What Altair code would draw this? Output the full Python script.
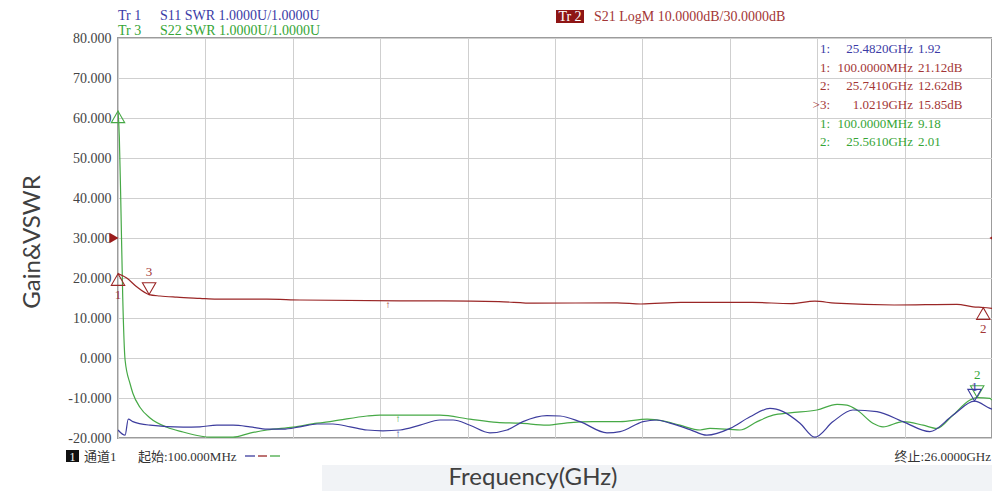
import altair as alt
import pandas as pd

# ---------------- data (display units on the common Gain&VSWR axis) ----------------
s11_freq = [0.1, 0.31, 0.405, 0.54, 1.05, 2.03, 2.53, 3.03, 3.51, 4.01, 4.52, 4.99, 5.49, 6.0,
            6.47, 6.98, 7.48, 7.95, 8.46, 9.05, 9.64, 10.03, 10.53, 11.12, 11.63, 12.1, 12.81,
            13.2, 13.79, 14.59, 14.98, 15.66, 16.07, 16.46, 17.05, 17.55, 18.24, 18.83, 19.42,
            19.81, 20.31, 20.75, 21.29, 21.88, 22.59, 23.36, 24.16, 24.84, 25.48, 25.94, 26.0]
s11_val = [-18.0, -19.3, -15.3, -15.9, -16.8, -17.3, -17.2, -16.8, -16.8, -17.2, -17.8, -17.8,
           -17.2, -16.5, -16.5, -17.2, -18.0, -18.2, -18.0, -16.8, -15.5, -15.5, -16.8, -18.7,
           -18.0, -15.9, -14.4, -14.5, -15.9, -18.7, -18.4, -15.9, -15.5, -16.3, -17.9, -19.3,
           -17.6, -14.7, -12.6, -13.4, -16.3, -19.8, -15.9, -13.0, -13.4, -15.9, -18.4, -14.3,
           -10.8, -12.6, -12.8]

s21_freq = [0.1, 0.358, 0.654, 1.0219, 1.345, 1.84, 2.53, 3.02, 4.51, 5.49, 8.46, 9.73, 11.39,
            12.43, 14.89, 15.6, 16.78, 18.89, 20.04, 20.75, 21.35, 23.1, 24.96, 25.44, 25.741, 26.0]
s21_val = [21.12, 20.0, 17.8, 15.85, 15.5, 15.2, 14.9, 14.7, 14.7, 14.5, 14.3, 14.3, 14.1,
           13.7, 13.8, 13.5, 13.9, 13.9, 13.6, 14.2, 13.7, 13.25, 13.4, 12.8, 12.62, 12.4]

s22_freq = [0.1, 0.139, 0.18, 0.24, 0.31, 0.46, 0.54, 0.75, 1.05, 1.55, 2.03, 2.53, 2.83, 3.51,
            4.01, 4.52, 5.29, 6.0, 6.47, 7.48, 7.86, 9.64, 10.53, 11.33, 12.01, 12.81, 13.41,
            14.18, 14.98, 15.78, 16.25, 16.75, 17.35, 17.64, 18.53, 19.04, 19.51, 20.01, 20.81,
            21.41, 21.70, 22.0, 22.47, 22.77, 23.36, 23.96, 24.37, 24.84, 25.35, 25.56, 25.94, 26.0]
s22_val = [61.8, 55.3, 40.3, 15.3, -0.5, -6.5, -8.8, -12.3, -15.0, -17.3, -18.5, -19.5, -19.8,
           -19.8, -18.8, -18.0, -17.3, -16.3, -15.8, -14.5, -14.3, -14.3, -15.3, -16.1, -16.3,
           -16.8, -16.2, -15.9, -15.9, -15.3, -15.7, -16.8, -18.0, -17.6, -18.0, -15.9, -14.3,
           -13.7, -13.0, -11.6, -11.8, -13.0, -16.3, -17.2, -15.9, -16.8, -17.6, -14.3, -10.5,
           -9.9, -10.1, -10.5]

# markers
mk_freq = [0.1, 1.0219, 25.741, 0.1, 25.561, 25.482]
mk_val = [21.12, 15.85, 12.62, 61.8, -9.9, -10.8]
mk_trace = ["S21", "S21", "S21", "S22", "S22", "S11"]
mk_label = ["1", "3", "2", "", "2", "1"]
mk_dir = ["up", "down", "up", "up", "down", "down"]

# marker readout table
table_id = ["1:", "1:", "2:", ">3:", "1:", "2:"]
table_freq = ["25.4820GHz", "100.0000MHz", "25.7410GHz", "1.0219GHz", "100.0000MHz", "25.5610GHz"]
table_val = ["1.92", "21.12dB", "12.62dB", "15.85dB", "9.18", "2.01"]
table_trace = ["S11", "S21", "S21", "S21", "S22", "S22"]

y_ticks = list(range(-20, 81, 10))
f_start, f_stop = 0.1, 26.0

# ---------------- styling ----------------
LINE = {"S11": "#3d3d9e", "S21": "#9a2626", "S22": "#46a946"}
TEXT = {"S11": "#3b3ba6", "S21": "#a33636", "S22": "#36a536"}
SERIF = "Liberation Serif, 'Noto Sans CJK SC'"
CJK = "Liberation Serif, 'Noto Sans CJK SC'"
X0, Y0 = 118, 38  # page position of plot origin
PW, PH = 874, 400

x_grid = [f_start + (f_stop - f_start) * i / 10 for i in range(11)]
xscale = alt.Scale(domain=[f_start, f_stop], nice=False, zero=False)
yscale = alt.Scale(domain=[-20, 80], nice=False, zero=False)
xaxis = alt.Axis(values=x_grid, labels=False, ticks=False, domain=False, grid=True,
                 gridColor="#cfcfcf", gridWidth=1, title=None)
yaxis = alt.Axis(values=y_ticks, labelExpr="replace(format(datum.value, '.3f'), '\u2212', '-')",
                 labelFont=SERIF, labelFontSize=14, labelColor="#444444", labelPadding=7,
                 ticks=False, domain=False, grid=True, gridColor="#cfcfcf", gridWidth=1,
                 title=None)
X = alt.X("f:Q", scale=xscale, axis=xaxis)
Y = alt.Y("v:Q", scale=yscale, axis=yaxis)

one = pd.DataFrame({"k": [0]})


def ptext(px, py, text, **kw):
    return alt.Chart(one).mark_text(**kw).encode(
        x=alt.value(px - X0), y=alt.value(py - Y0), text=alt.value(text))


def prect(x1, y1, x2, y2, color):
    return alt.Chart(one).mark_rect(color=color).encode(
        x=alt.value(x1 - X0), x2=alt.value(x2 - X0), y=alt.value(y1 - Y0), y2=alt.value(y2 - Y0))


def prule(x1, x2, y, color):
    return alt.Chart(one).mark_rule(color=color, strokeWidth=1.3).encode(
        x=alt.value(x1 - X0), x2=alt.value(x2 - X0), y=alt.value(y - Y0))


layers = []
# faint background band at bottom
layers.append(prect(322, 465, 998, 495, "#f1f3f6"))

# traces
for name, fr, vv in [("S22", s22_freq, s22_val), ("S11", s11_freq, s11_val), ("S21", s21_freq, s21_val)]:
    d = pd.DataFrame({"f": fr, "v": vv})
    layers.append(alt.Chart(d).mark_line(color=LINE[name], strokeWidth=1.2,
                                         interpolate="monotone", clip=True).encode(x=X, y=Y))

# marker triangles and labels
for f, v, tr, lab, dr in zip(mk_freq, mk_val, mk_trace, mk_label, mk_dir):
    d = pd.DataFrame({"f": [f], "v": [v]})
    off = 6 if dr == "up" else -6
    layers.append(alt.Chart(d).mark_point(shape="triangle-" + dr, filled=False, size=180,
                                          stroke=LINE[tr], strokeWidth=1.1, yOffset=off,
                                          opacity=1).encode(x=X, y=Y))
    if lab:
        if tr == "S11":
            dy = -14
        else:
            dy = 21 if dr == "up" else -23
        layers.append(alt.Chart(d).mark_text(text=lab, font=SERIF, fontSize=13, color=TEXT[tr],
                                             dy=dy).encode(x=X, y=Y))

# small stimulus arrows
for f, v, tr in [(8.1, 14.3, "S21"), (8.4, -14.3, "S22"), (8.4, -18.1, "S11")]:
    d = pd.DataFrame({"f": [f], "v": [v]})
    layers.append(alt.Chart(d).mark_text(text="\u2191", fontSize=10, color=LINE[tr],
                                         baseline="top", dy=-1).encode(x=X, y=Y))

# reference-level arrows at 30 dB
ref = pd.DataFrame({"f": [f_start], "v": [30.0]})
layers.append(alt.Chart(ref).mark_point(shape="triangle-right", filled=True, size=110,
                                        color="#9a1c1c", opacity=1, clip=False)
              .encode(x=alt.value(-4), y=Y))
layers.append(alt.Chart(ref).mark_point(shape="triangle-left", filled=True, size=110,
                                        color="#9a1c1c", opacity=1, clip=False)
              .encode(x=alt.value(PW + 2), y=Y))

# top-left trace legends
layers.append(ptext(118, 16, "Tr 1", font=SERIF, fontSize=14, color=TEXT["S11"], align="left"))
layers.append(ptext(160, 16, "S11 SWR 1.0000U/1.0000U", font=SERIF, fontSize=14,
                    color=TEXT["S11"], align="left"))
layers.append(ptext(118, 31, "Tr 3", font=SERIF, fontSize=14, color=TEXT["S22"], align="left"))
layers.append(ptext(160, 31, "S22 SWR 1.0000U/1.0000U", font=SERIF, fontSize=14,
                    color=TEXT["S22"], align="left"))
# Tr 2 legend
layers.append(prect(556, 10, 584, 23, "#8e1515"))
layers.append(ptext(570, 16.5, "Tr 2", font=SERIF, fontSize=14, color="white", align="center"))
layers.append(ptext(594, 16.5, "S21 LogM 10.0000dB/30.0000dB", font=SERIF, fontSize=14,
                    color=TEXT["S21"], align="left"))

# marker readout table
for i, (tid, tf, tv, tt) in enumerate(zip(table_id, table_freq, table_val, table_trace)):
    py = 49 + 18.65 * i
    layers.append(ptext(830, py, tid, font=SERIF, fontSize=13, color=TEXT[tt], align="right"))
    layers.append(ptext(913, py, tf, font=SERIF, fontSize=13, color=TEXT[tt], align="right"))
    layers.append(ptext(918, py, tv, font=SERIF, fontSize=13, color=TEXT[tt], align="left"))

# bottom status line
layers.append(prect(66, 450, 79, 462, "#111111"))
layers.append(ptext(72.5, 456.5, "1", font=SERIF, fontSize=12, color="white", align="center"))
layers.append(ptext(84, 456.5, "通道1", font=CJK, fontSize=13, color="#333333", align="left"))
layers.append(ptext(138, 456.5, "起始:100.000MHz", font=CJK, fontSize=13, color="#333333",
                    align="left"))
layers.append(prule(245, 255, 456, LINE["S11"]))
layers.append(prule(258, 267, 456, LINE["S21"]))
layers.append(prule(270, 280, 456, LINE["S22"]))
layers.append(ptext(991, 456.5, "终止:26.0000GHz", font=CJK, fontSize=13, color="#333333",
                    align="right"))

# axis titles
layers.append(ptext(33, 242, "Gain&VSWR", font="Lato", fontSize=24, color="#404040",
                    align="center", angle=270))
layers.append(ptext(533, 485, "Frequency(GHz)", font="Lato", fontSize=24, color="#404040",
                    align="center", baseline="alphabetic"))

chart = alt.layer(*layers).properties(
    width=PW, height=PH,
    autosize=alt.AutoSizeParams(type="none"),
    padding={"left": 110, "top": 30, "right": 0, "bottom": 53},
    background="white",
).configure_view(stroke="#9c9c9c", strokeWidth=2)

chart.save("out.html", embed_options={"renderer": "svg", "actions": False})
